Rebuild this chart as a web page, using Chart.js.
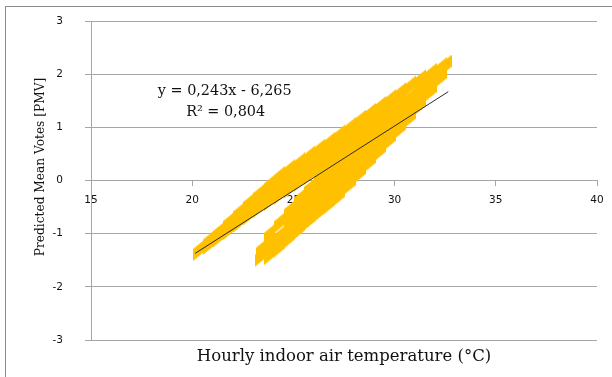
<!DOCTYPE html>
<html>
<head>
<meta charset="utf-8">
<script src="https://cdn.jsdelivr.net/npm/chart.js@4"></script>
<style>
  html, body { margin: 0; padding: 0; background: #fff; }
  #wrap { position: relative; width: 612px; height: 377px; overflow: hidden; }
  #frame { position: absolute; left: 5px; top: 6px; width: 640px; height: 400px; border: 1px solid #8a8a8a; }
  canvas { position: absolute; left: 0; top: 0; }
</style>
</head>
<body>
<div id="wrap"><div id="frame"></div><canvas id="chart" width="612" height="377"></canvas></div>
<script>
const xTicks = [15, 20, 25, 30, 35, 40];
const yTicks = [-3, -2, -1, 0, 1, 2, 3];

// [temperature, PMV], column by column
const leftBranch = [
  [20.3, -1.32],
  [20.8, -1.2], [20.8, -1.14],
  [21.3, -1.06], [21.3, -0.98],
  [21.8, -0.92], [21.8, -0.79],
  [22.3, -0.78], [22.3, -0.61],
  [22.8, -0.64], [22.8, -0.53], [22.8, -0.43],
  [23.3, -0.5], [23.3, -0.38], [23.3, -0.26],
  [23.8, -0.38], [23.8, -0.2], [23.8, -0.09],
  [24.3, -0.26], [24.3, -0.08], [24.3, 0.07],
  [24.8, -0.14], [24.8, 0.03], [24.8, 0.2],
  [25.3, -0.01], [25.3, 0.16], [25.3, 0.33],
  [25.8, 0.12], [25.8, 0.29], [25.8, 0.46],
];
const rightBranch = [
  [23.35, -1.43], [23.4, -1.3],
  [23.8, -1.4], [23.8, -1.22], [23.8, -1.02],
  [24.3, -1.25], [24.3, -1.05], [24.3, -0.8],
  [24.8, -1.08], [24.8, -0.9], [24.8, -0.72], [24.8, -0.57],
  [25.3, -0.91], [25.3, -0.72], [25.3, -0.53], [25.3, -0.35],
  [25.8, -0.74], [25.8, -0.56], [25.8, -0.38], [25.8, -0.2], [25.8, -0.15],
];
const upperPart = [
  [26.3, -0.58], [26.3, -0.4], [26.3, -0.22], [26.3, -0.04], [26.3, 0.14], [26.3, 0.32], [26.3, 0.5], [26.3, 0.59],
  [26.8, -0.43], [26.8, -0.25], [26.8, -0.07], [26.8, 0.11], [26.8, 0.29], [26.8, 0.47], [26.8, 0.65], [26.8, 0.72],
  [27.3, -0.27], [27.3, -0.09], [27.3, 0.09], [27.3, 0.27], [27.3, 0.45], [27.3, 0.63], [27.3, 0.81], [27.3, 0.86],
  [27.8, -0.06], [27.8, 0.12], [27.8, 0.3], [27.8, 0.48], [27.8, 0.66], [27.8, 0.84], [27.8, 0.99],
  [28.3, 0.15], [28.3, 0.33], [28.3, 0.51], [28.3, 0.69], [28.3, 0.87], [28.3, 1.05], [28.3, 1.13],
  [28.8, 0.36], [28.8, 0.54], [28.8, 0.72], [28.8, 0.9], [28.8, 1.08], [28.8, 1.26],
  [29.3, 0.57], [29.3, 0.75], [29.3, 0.93], [29.3, 1.11], [29.3, 1.29], [29.3, 1.39],
  [29.8, 0.78], [29.8, 0.96], [29.8, 1.14], [29.8, 1.32], [29.8, 1.52],
  [30.3, 0.99], [30.3, 1.17], [30.3, 1.35], [30.3, 1.53], [30.3, 1.65],
  [30.8, 1.2], [30.8, 1.38], [30.8, 1.56], [30.8, 1.78],
  [31.3, 1.44], [31.3, 1.62], [31.3, 1.8], [31.3, 1.9],
  [31.8, 1.69], [31.8, 1.87], [31.8, 2.01],
  [32.3, 1.95], [32.3, 2.12],
  [32.55, 2.17],
];

// trendline ends as drawn
const trendTemp = [20.15, 32.65];
const trendPmv = [-1.37, 1.67];
const equation = "y = 0,243x - 6,265";
const rSquared = "R² = 0,804";
const xTitle = "Hourly indoor air temperature (°C)";
const yTitle = "Predicted Mean Votes [PMV]";

const gridGray = "#a6a6a6";
const gold = "#ffc000";
const textDark = "#111";
const tickFont = { family: "DejaVu Sans", size: 10.5 };
const serif = "DejaVu Serif";

const toXY = (pairs) => pairs.map(([x, y]) => ({ x, y }));

// slanted marker so the dense cloud gets smooth sloping edges
function makeMark(w, h, rise) {
  const c = document.createElement("canvas");
  c.width = w;
  c.height = Math.ceil(h + rise);
  const g = c.getContext("2d");
  g.fillStyle = gold;
  g.beginPath();
  g.moveTo(0, rise);
  g.lineTo(w, 0);
  g.lineTo(w, h);
  g.lineTo(0, h + rise);
  g.closePath();
  g.fill();
  return c;
}
const mark = makeMark(11, 12, 9);

const textLayer = {
  id: "textLayer",
  afterDraw(chart) {
    const { ctx, chartArea, scales: { x, y } } = chart;
    ctx.save();
    ctx.fillStyle = textDark;
    ctx.font = `14.4px "${serif}"`;
    ctx.fillText(equation, x.getPixelForValue(18.3), y.getPixelForValue(1.6));
    ctx.fillText(rSquared, x.getPixelForValue(19.7), y.getPixelForValue(1.22));

    ctx.textAlign = "center";
    ctx.font = `16.5px "${serif}"`;
    ctx.fillText(xTitle, (chartArea.left + chartArea.right) / 2, 361);

    ctx.font = `12.2px "${serif}"`;
    ctx.translate(44, 167);
    ctx.rotate(-Math.PI / 2);
    ctx.fillText(yTitle, 0, 0);
    ctx.restore();
  },
};

new Chart(document.getElementById("chart"), {
  type: "scatter",
  data: {
    datasets: [
      {
        label: "PMV",
        data: toXY([...leftBranch, ...rightBranch, ...upperPart]),
        pointStyle: mark,
        pointRadius: 6,
        pointHoverRadius: 6,
        order: 1,
      },
      {
        type: "line",
        label: "Trend",
        data: trendTemp.map((x, i) => ({ x, y: trendPmv[i] })),
        borderColor: "#2b2b2b",
        borderWidth: 1,
        pointRadius: 0,
        order: 0,
      },
    ],
  },
  options: {
    responsive: false,
    animation: false,
    layout: { padding: { top: 21, right: 15, bottom: 37, left: 0 } },
    plugins: {
      legend: { display: false },
      tooltip: { enabled: false },
    },
    scales: {
      x: {
        type: "linear",
        position: { y: 0 },
        min: xTicks[0],
        max: xTicks[xTicks.length - 1],
        z: 1,
        ticks: { stepSize: 5, padding: 8, font: tickFont, color: textDark, maxRotation: 0 },
        grid: { drawOnChartArea: false, tickLength: 5, color: gridGray },
        border: { color: gridGray },
        afterFit(scale) {
          scale.height = 0;
        },
      },
      y: {
        min: yTicks[0],
        max: yTicks[yTicks.length - 1],
        ticks: { stepSize: 1, padding: 22, font: tickFont, color: textDark },
        grid: { color: gridGray, tickLength: 6 },
        border: { color: gridGray },
        afterFit(scale) {
          // tick padding would otherwise push the plot down
          scale.width = 91;
          scale.paddingTop = 0;
          scale.paddingBottom = 0;
        },
      },
    },
  },
  plugins: [textLayer],
});
</script>
</body>
</html>
